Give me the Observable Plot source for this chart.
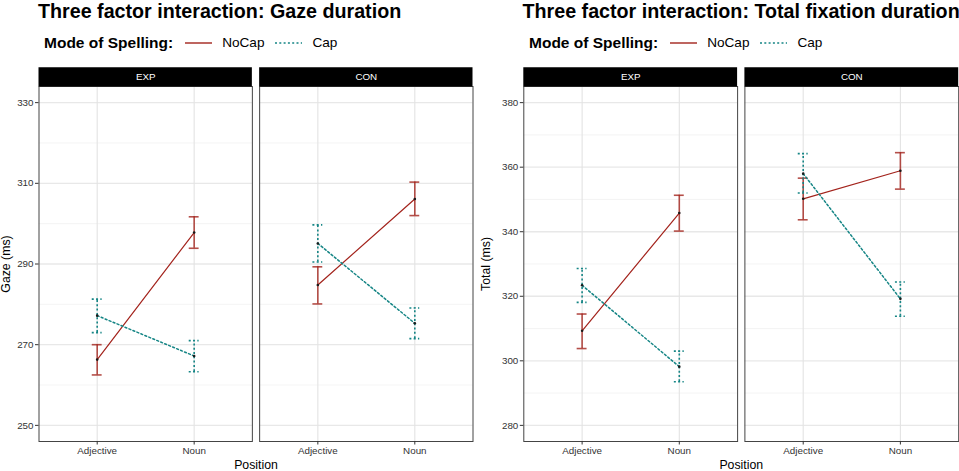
<!DOCTYPE html>
<html>
<head>
<meta charset="utf-8">
<script src="https://cdn.jsdelivr.net/npm/d3@7"></script>
<script src="https://cdn.jsdelivr.net/npm/@observablehq/plot@0.6"></script>
<style>
  html, body { margin: 0; padding: 0; background: #fff; }
  body { width: 959px; height: 471px; overflow: hidden; position: relative; font-family: "Liberation Sans", Arial, sans-serif; }
  .chart { position: absolute; top: 0; height: 471px; }
  .title { position: absolute; top: 1px; white-space: nowrap; font-weight: bold; font-size: 19.7px; line-height: 20px; color: #000; }
  .legend { position: absolute; top: 33px; height: 19px; display: flex; align-items: center; white-space: nowrap; color: #000; }
  .legend .lt { font-weight: bold; font-size: 15.5px; margin-right: 12px; }
  .legend .lab { font-size: 13.6px; }
  .legend svg { display: block; }
</style>
</head>
<body>
<script>
// ---- data ----
const panels = ["EXP", "CON"];
const modes = ["NoCap", "Cap"];
const positions = ["Adjective", "Noun"];
const modeColors = ["#a3231c", "#158585"];

// order: EXP-NoCap (Adj, Noun), EXP-Cap, CON-NoCap, CON-Cap
const gazeMean = [266.3, 297.8, 277.2, 267.2, 284.8, 306.1, 295.1, 275.3];
const gazeLow  = [262.5, 293.9, 273.0, 263.3, 280.1, 302.0, 290.5, 271.5];
const gazeHigh = [270.0, 301.7, 281.3, 271.0, 289.3, 310.3, 299.7, 279.1];

const totalMean = [309.3, 345.8, 323.4, 298.2, 350.2, 358.9, 358.0, 319.2];
const totalLow  = [303.8, 340.2, 318.1, 293.5, 343.7, 353.2, 352.0, 313.8];
const totalHigh = [314.5, 351.3, 328.6, 303.0, 356.6, 364.5, 364.2, 324.4];

const gazeLimits = [250, 330];
const gazeMajor = [250, 270, 290, 310, 330];
const gazeMinor = [260, 280, 300, 320];
const totalLimits = [280, 380];
const totalMajor = [280, 300, 320, 340, 360, 380];
const totalMinor = [290, 310, 330, 350, 370];

function buildRows(mean, low, high) {
  const rows = [];
  let k = 0;
  for (const panel of panels) for (const mode of modes) for (const position of positions) {
    rows.push({panel, mode, position, mean: mean[k], lo: low[k], hi: high[k]});
    k++;
  }
  return rows;
}

function makePlot(rows, limits, major, minor, yLabel, opts) {
  const span = limits[1] - limits[0];
  const yDomain = [limits[0] - 0.05 * span, limits[1] + 0.05 * span];
  const stripH = 19.3;
  const marks = [
    Plot.gridY(minor, {stroke: "#ececec", strokeOpacity: 1, strokeWidth: 0.6}),
    Plot.gridY(major, {stroke: "#e8e8e8", strokeOpacity: 1, strokeWidth: 1.3}),
    Plot.gridX(positions, {stroke: "#e3e3e3", strokeOpacity: 1, strokeWidth: 1.1})
  ];
  modes.forEach((m, i) => {
    const sub = rows.filter(d => d.mode === m);
    const dash = m === "Cap" ? "2,2.3" : null;
    const eb = {stroke: modeColors[i], strokeOpacity: m === "Cap" ? 1 : 0.8, strokeWidth: 1.6, strokeDasharray: dash};
    marks.push(
      Plot.ruleX(sub, {fx: "panel", x: "position", y1: "lo", y2: "hi", ...eb}),
      Plot.tickY(sub, {fx: "panel", x: "position", y: "lo", ...eb}),
      Plot.tickY(sub, {fx: "panel", x: "position", y: "hi", ...eb}),
      Plot.line(sub, {fx: "panel", x: "position", y: "mean", stroke: modeColors[i], strokeWidth: m === "Cap" ? 1.5 : 1.2, strokeDasharray: dash})
    );
  });
  marks.push(
    Plot.dot(rows, {fx: "panel", x: "position", y: "mean", r: 1.3, fill: "#1a1a1a", stroke: null}),
    Plot.frame({stroke: "#444", strokeWidth: 1}),
    Plot.ruleY(panels, {fx: d => d, y: () => yDomain[1], dy: -stripH / 2, stroke: "#000", strokeWidth: stripH}),
    Plot.text(panels, {fx: d => d, text: d => d, frameAnchor: "top", dy: -stripH / 2, lineAnchor: "middle", fill: "#fff", fontSize: 9.8}),
    Plot.axisY(major, {tickSize: 3.5, tickPadding: 2, fontSize: 9.8, color: "#333", label: null}),
    Plot.axisY([], {tickSize: 0, label: yLabel, labelAnchor: "center", labelArrow: "none", labelOffset: opts.marginLeft - 0.5, fontSize: 12.3, color: "#000"}),
    Plot.axisX({tickSize: 3.5, tickPadding: 2, fontSize: 9.8, color: "#333", label: null}),
    Plot.axisFx({anchor: "bottom", tickSize: 0, tickFormat: () => "", label: "Position", labelAnchor: "center", labelArrow: "none", labelOffset: 27, fontSize: 12.3, color: "#000"})
  );
  return Plot.plot({
    width: opts.width,
    height: 411,
    marginTop: 26,
    marginBottom: 30,
    marginLeft: opts.marginLeft,
    marginRight: opts.marginRight,
    style: {fontFamily: "Liberation Sans, Arial, sans-serif", background: "transparent", overflow: "visible"},
    x: {type: "band", domain: positions, paddingInner: 0.898, paddingOuter: 0.549, round: false},
    fx: {domain: panels, paddingInner: 0.033, paddingOuter: 0, round: false},
    y: {domain: yDomain},
    marks
  });
}

function legendKey(color, dash) {
  const ns = "http://www.w3.org/2000/svg";
  const s = document.createElementNS(ns, "svg");
  s.setAttribute("width", 27); s.setAttribute("height", 10);
  const l = document.createElementNS(ns, "line");
  l.setAttribute("x1", 0); l.setAttribute("x2", 27); l.setAttribute("y1", 5); l.setAttribute("y2", 5);
  l.setAttribute("stroke", color); l.setAttribute("stroke-width", dash ? 1.5 : 1.4);
  if (dash) l.setAttribute("stroke-dasharray", dash);
  s.appendChild(l);
  return s;
}

function addChart(left, width, titleText, titleLeft, legendLeft, plot) {
  const c = document.createElement("div");
  c.className = "chart";
  c.style.left = left + "px";
  c.style.width = width + "px";
  const t = document.createElement("div");
  t.className = "title"; t.style.left = titleLeft + "px"; t.textContent = titleText;
  c.appendChild(t);
  const lg = document.createElement("div");
  lg.className = "legend"; lg.style.left = legendLeft + "px";
  const lt = document.createElement("span"); lt.className = "lt"; lt.textContent = "Mode of Spelling:";
  lg.appendChild(lt);
  modes.forEach((m, i) => {
    const k = legendKey(modeColors[i], m === "Cap" ? "2,2.3" : null);
    k.style.marginRight = "10px";
    lg.appendChild(k);
    const lab = document.createElement("span"); lab.className = "lab"; lab.textContent = m;
    lab.style.marginRight = "11px";
    lg.appendChild(lab);
  });
  c.appendChild(lg);
  plot.style.position = "absolute";
  plot.style.top = "60px";
  plot.style.left = "0px";
  c.appendChild(plot);
  document.body.appendChild(c);
}

const gazeRows = buildRows(gazeMean, gazeLow, gazeHigh);
const totalRows = buildRows(totalMean, totalLow, totalHigh);

addChart(0, 480, "Three factor interaction: Gaze duration", 38, 44,
  makePlot(gazeRows, gazeLimits, gazeMajor, gazeMinor, "Gaze (ms)", {width: 480, marginLeft: 38.5, marginRight: 7.5}));
addChart(480, 479, "Three factor interaction: Total fixation duration", 42.5, 49,
  makePlot(totalRows, totalLimits, totalMajor, totalMinor, "Total (ms)", {width: 479, marginLeft: 43.3, marginRight: 0.8}));
</script>
</body>
</html>
